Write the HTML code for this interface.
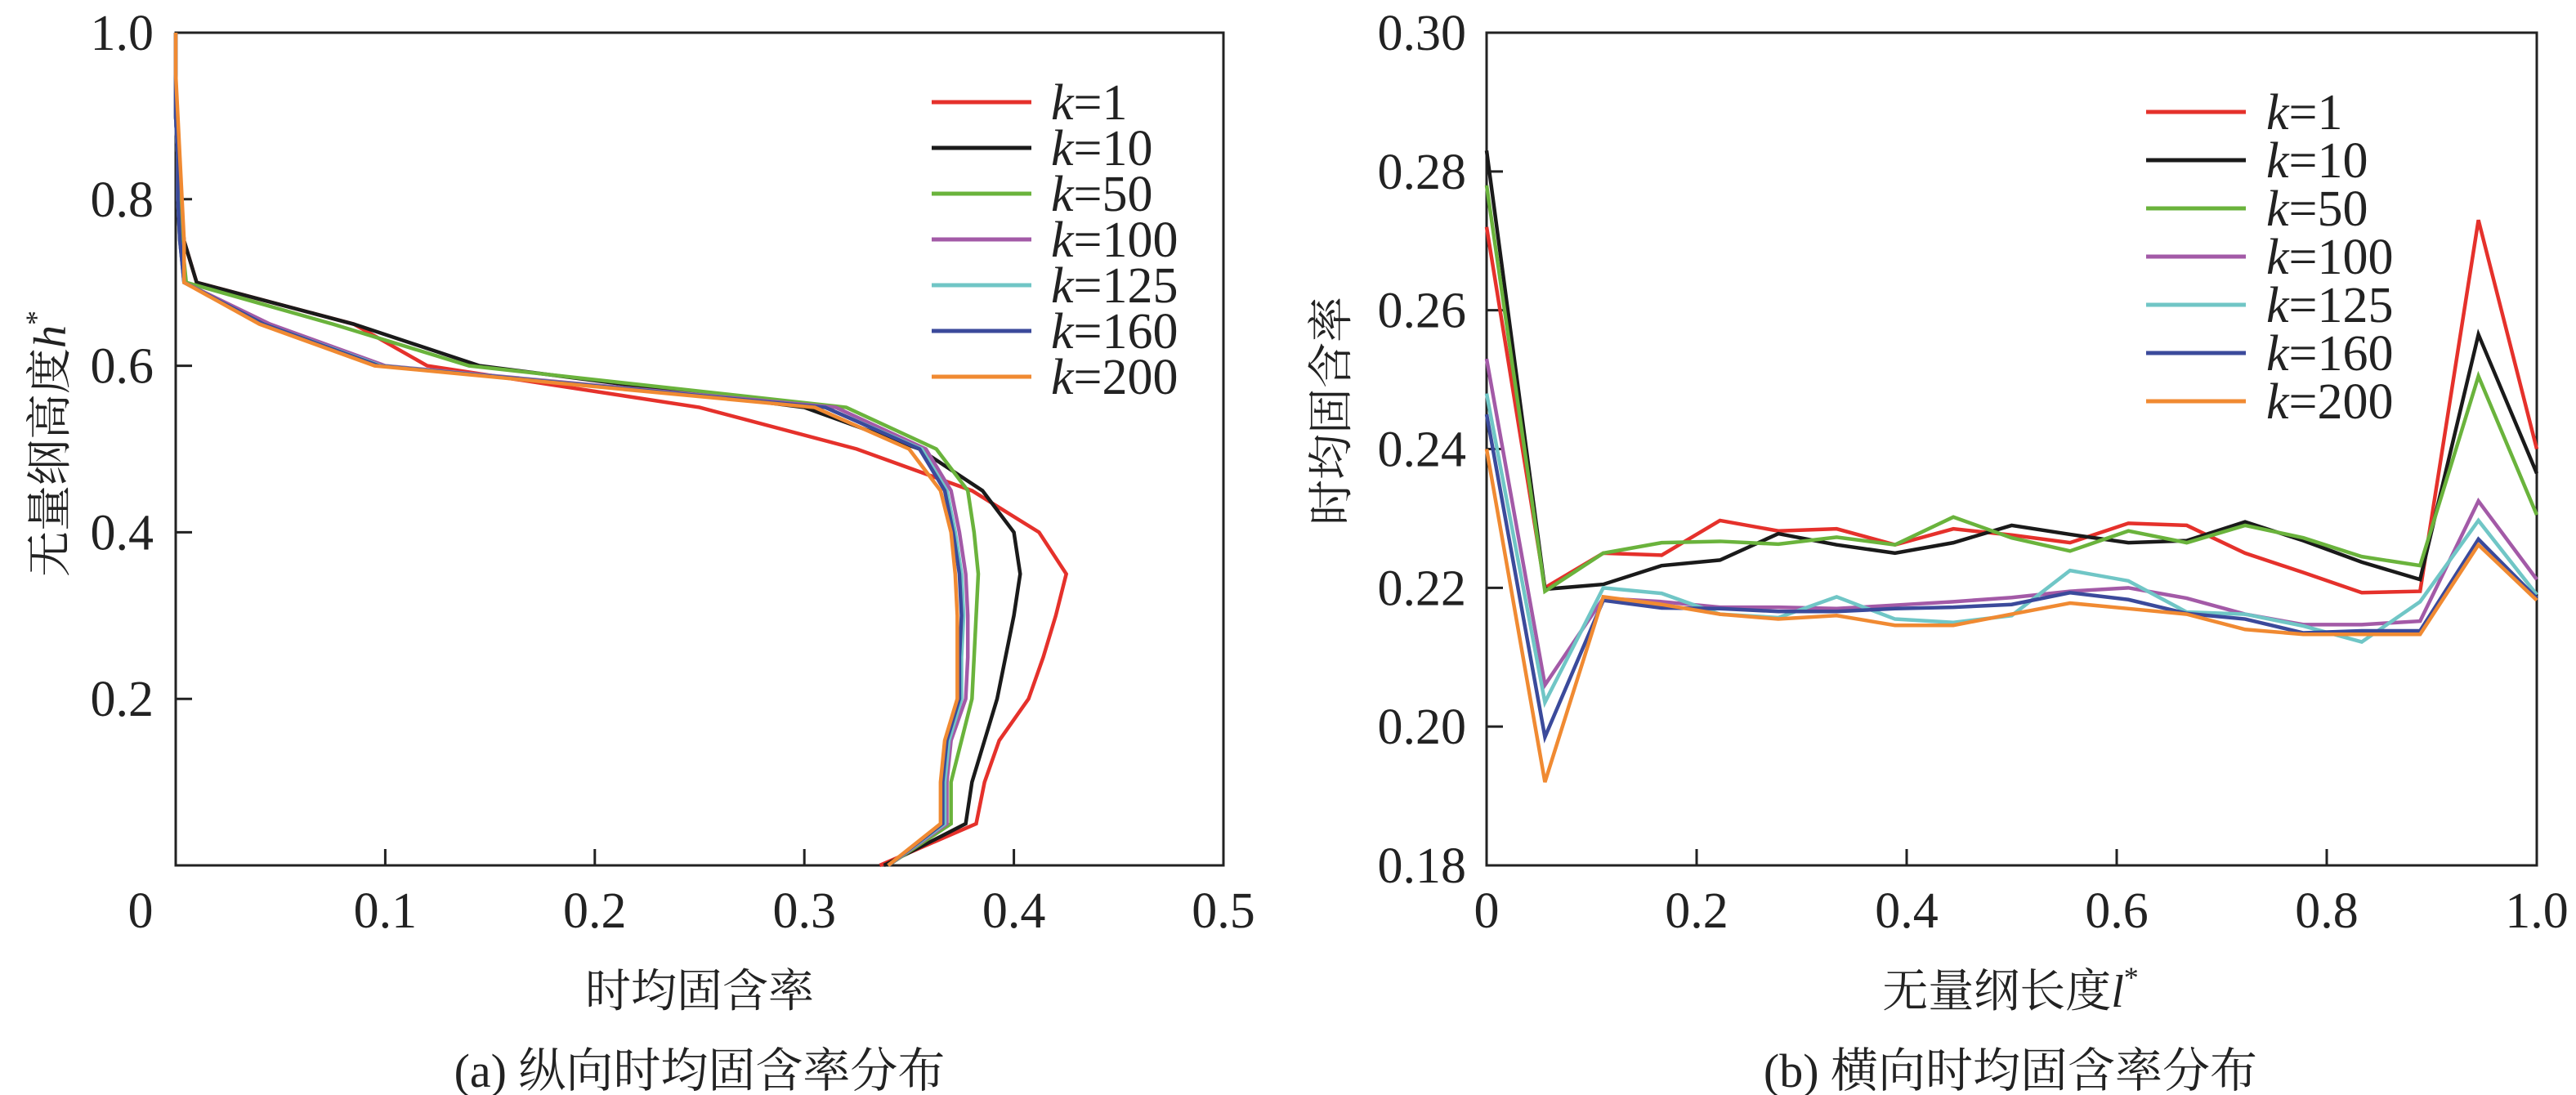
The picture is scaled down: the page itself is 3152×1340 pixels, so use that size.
<!DOCTYPE html>
<html><head><meta charset="utf-8"><style>
html,body{margin:0;padding:0;background:#fff;}
svg{display:block;}
text{font-family:"Liberation Serif","Noto Serif CJK SC",serif;fill:#222;}
</style></head><body>
<svg id="chart" width="3152" height="1340" viewBox="0 0 3152 1340" xmlns="http://www.w3.org/2000/svg"></svg>
<script>
const seriesNames = ["1","10","50","100","125","160","200"];
const seriesColors = ["#e5312b","#1a1a1a","#6ab33c","#a35aa7","#70c6c6","#3b4a9b","#f08a32"];
// Left chart: heights
const hLevels = [0,0.05,0.1,0.15,0.2,0.25,0.3,0.35,0.4,0.45,0.5,0.55,0.6,0.65,0.7,0.75,0.8,0.85,0.9,0.95,1.0];
const leftK1 = [0.336,0.382,0.386,0.393,0.407,0.414,0.420,0.425,0.412,0.380,0.325,0.250,0.120,0.085,0.010,0.004,0.002,0.001,0,0,0];
const leftK10 = [0.338,0.377,0.380,0.386,0.392,0.396,0.400,0.403,0.400,0.385,0.355,0.300,0.145,0.085,0.010,0.004,0.002,0.001,0,0,0];
const leftK50 = [0.340,0.370,0.370,0.375,0.380,0.381,0.382,0.383,0.381,0.378,0.363,0.320,0.140,0.075,0.005,0.003,0.002,0.001,0,0,0];
const leftK100 = [0.340,0.368,0.368,0.370,0.377,0.378,0.378,0.377,0.374,0.370,0.358,0.315,0.100,0.045,0.004,0.002,0.001,0.001,0,0,0];
const leftK125 = [0.340,0.367,0.367,0.369,0.375,0.375,0.376,0.375,0.372,0.368,0.356,0.310,0.098,0.042,0.004,0.002,0.001,0.001,0,0,0];
const leftK160 = [0.340,0.366,0.366,0.368,0.374,0.374,0.375,0.374,0.371,0.367,0.355,0.310,0.097,0.042,0.004,0.002,0.001,0.001,0,0,0];
const leftK200 = [0.340,0.365,0.365,0.367,0.373,0.373,0.373,0.372,0.370,0.365,0.350,0.305,0.095,0.040,0.004,0.004,0.003,0.002,0.001,0,0];
const leftSeries = [leftK1,leftK10,leftK50,leftK100,leftK125,leftK160,leftK200];
const leftXTicks = [0.1,0.2,0.3,0.4,0.5];
const leftXTickLabels = ["0.1","0.2","0.3","0.4","0.5"];
const leftYTicks = [0.2,0.4,0.6,0.8,1.0];
const leftYTickLabels = ["0.2","0.4","0.6","0.8","1.0"];
// Right chart
const lPositions = [0,1/18,2/18,3/18,4/18,5/18,6/18,7/18,8/18,9/18,10/18,11/18,12/18,13/18,14/18,15/18,16/18,17/18,1];
const rightK1 = [0.272,0.2200,0.2250,0.2247,0.2297,0.2282,0.2285,0.2262,0.2285,0.2276,0.2265,0.2293,0.2290,0.2250,0.2222,0.2193,0.2195,0.2730,0.2400];
const rightK10 = [0.283,0.2198,0.2205,0.2232,0.2240,0.2278,0.2262,0.2250,0.2265,0.2290,0.2277,0.2265,0.2268,0.2295,0.2268,0.2237,0.2212,0.2565,0.2365];
const rightK50 = [0.278,0.2195,0.2250,0.2265,0.2267,0.2263,0.2273,0.2262,0.2302,0.2272,0.2253,0.2282,0.2265,0.2290,0.2272,0.2245,0.2232,0.2505,0.2305];
const rightK100 = [0.253,0.2060,0.2185,0.2180,0.2172,0.2172,0.2170,0.2175,0.2180,0.2186,0.2195,0.2200,0.2185,0.2162,0.2147,0.2147,0.2152,0.2325,0.2212];
const rightK125 = [0.248,0.2035,0.2200,0.2192,0.2162,0.2157,0.2187,0.2155,0.2150,0.2160,0.2225,0.2210,0.2165,0.2162,0.2145,0.2122,0.2180,0.2297,0.2190];
const rightK160 = [0.245,0.1985,0.2182,0.2171,0.2170,0.2166,0.2166,0.2170,0.2172,0.2176,0.2193,0.2183,0.2163,0.2155,0.2135,0.2138,0.2138,0.2270,0.2185];
const rightK200 = [0.240,0.1920,0.2187,0.2176,0.2162,0.2155,0.2160,0.2146,0.2146,0.2162,0.2178,0.2170,0.2162,0.2140,0.2133,0.2133,0.2133,0.2262,0.2182];
const rightSeries = [rightK1,rightK10,rightK50,rightK100,rightK125,rightK160,rightK200];
const rightXTicks = [0.2,0.4,0.6,0.8,1.0];
const rightXTickLabels = ["0.2","0.4","0.6","0.8","1.0"];
const rightYTicks = [0.18,0.20,0.22,0.24,0.26,0.28,0.30];
const rightYTickLabels = ["0.18","0.20","0.22","0.24","0.26","0.28","0.30"];

const NS="http://www.w3.org/2000/svg";
const svg=document.getElementById('chart');
function mk(tag,attrs,parent){const e=document.createElementNS(NS,tag);for(const k in attrs)e.setAttribute(k,attrs[k]);(parent||svg).appendChild(e);return e;}

const L={x0:215,x1:1497,y0:1059,y1:40};
const lx=v=>L.x0+(v/0.5)*(L.x1-L.x0);
const ly=v=>L.y0-(v/1.0)*(L.y0-L.y1);
const R={x0:1819,x1:3104,y0:1059,y1:40};
const rx=v=>R.x0+v*(R.x1-R.x0);
const ry=v=>R.y0-((v-0.18)/0.12)*(R.y0-R.y1);
const TICKY=1135, FS=62;

function drawPanel(P,name){
  const g=mk('g',{});
  
  
  const f=mk('rect',{x:P.x0,y:P.y1,width:P.x1-P.x0,height:P.y0-P.y1,fill:'none',stroke:'#222','stroke-width':3},g);
  
  
  return g;
}
const gl=drawPanel(L,'left');
const gr=drawPanel(R,'right');

leftXTicks.forEach((t,i)=>{
  const x=lx(t);
  if(t<0.5){const tk=mk('line',{x1:x,x2:x,y1:L.y0,y2:L.y0-20,stroke:'#222','stroke-width':3},gl);
  }
  const tx=mk('text',{x:x,y:TICKY,'font-size':FS,'text-anchor':'middle'},gl);tx.textContent=leftXTickLabels[i];
  
});
leftYTicks.forEach((t,i)=>{
  const y=ly(t);
  if(t<1){const tk=mk('line',{x1:L.x0,x2:L.x0+20,y1:y,y2:y,stroke:'#222','stroke-width':3},gl);
  }
  const tx=mk('text',{x:188,y:y+21,'font-size':FS,'text-anchor':'end'},gl);tx.textContent=leftYTickLabels[i];
  
});
{const tx=mk('text',{x:172,y:TICKY,'font-size':FS,'text-anchor':'middle'},gl);tx.textContent='0';
}

rightXTicks.forEach((t,i)=>{
  const x=rx(t);
  if(t<1){const tk=mk('line',{x1:x,x2:x,y1:R.y0,y2:R.y0-20,stroke:'#222','stroke-width':3},gr);
  }
  const tx=mk('text',{x:x,y:TICKY,'font-size':FS,'text-anchor':'middle'},gr);tx.textContent=rightXTickLabels[i];
  
});
{const tx=mk('text',{x:rx(0),y:TICKY,'font-size':FS,'text-anchor':'middle'},gr);tx.textContent='0';
}
rightYTicks.forEach((t,i)=>{
  const y=ry(t);
  if(t>0.181&&t<0.299){const tk=mk('line',{x1:R.x0,x2:R.x0+20,y1:y,y2:y,stroke:'#222','stroke-width':3},gr);
  }
  const tx=mk('text',{x:1794,y:y+21,'font-size':FS,'text-anchor':'end'},gr);tx.textContent=rightYTickLabels[i];
  
});

leftSeries.forEach((arr,si)=>{
  const pts=arr.map((v,i)=>lx(v)+','+ly(hLevels[i])).join(' ');
  const p=mk('polyline',{points:pts,fill:'none',stroke:seriesColors[si],'stroke-width':4.5},gl);
  
  
});
rightSeries.forEach((arr,si)=>{
  const pts=arr.map((v,i)=>rx(lPositions[i])+','+ry(v)).join(' ');
  const p=mk('polyline',{points:pts,fill:'none',stroke:seriesColors[si],'stroke-width':4.5},gr);
  
  
});

function legend(x0,xText,yStart,step,prefix){
  seriesNames.forEach((n,i)=>{
    const y=yStart+i*step;
    const ln=mk('line',{x1:x0,x2:x0+122,y1:y,y2:y,stroke:seriesColors[i],'stroke-width':5});
    
    
    const t=mk('text',{x:xText,y:y+21,'font-size':62});
    t.innerHTML='<tspan font-style="italic">k</tspan>=' + n;
    
    
  });
}
legend(1140,1286,125,56,'left');
legend(2626,2773,137,59,'right');

function txt(s,attrs,name){const t=mk('text',attrs);t.innerHTML=s;return t;}
txt('无量纲高度<tspan font-style="italic">h</tspan><tspan font-size="36" dy="-24">*</tspan>',{x:0,y:0,'font-size':56,'text-anchor':'middle',transform:'translate(80,543) rotate(-90)'},'left-y-axis-title');
txt('时均固含率',{x:856,y:1232,'font-size':56,'text-anchor':'middle'},'left-x-axis-title');
txt('(a) 纵向时均固含率分布',{x:856,y:1330,'font-size':58,'text-anchor':'middle'},'left-caption');
txt('时均固含率',{x:0,y:0,'font-size':56,'text-anchor':'middle',transform:'translate(1648,503) rotate(-90)'},'right-y-axis-title');
txt('无量纲长度<tspan font-style="italic">l</tspan><tspan font-size="36" dy="-24">*</tspan>',{x:2460,y:1232,'font-size':56,'text-anchor':'middle'},'right-x-axis-title');
txt('(b) 横向时均固含率分布',{x:2460,y:1330,'font-size':58,'text-anchor':'middle'},'right-caption');
</script>
</body></html>
